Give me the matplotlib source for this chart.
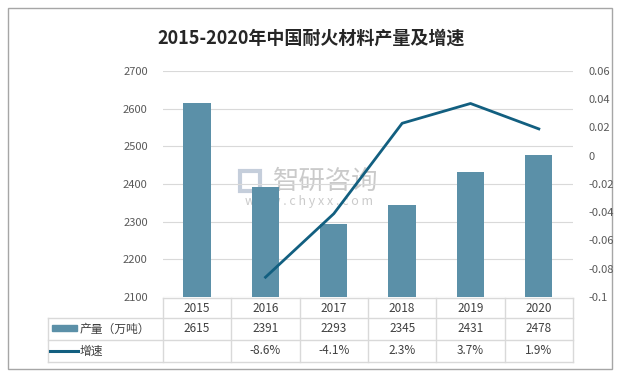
import matplotlib.pyplot as plt
import numpy as np
from matplotlib.patches import Rectangle
from matplotlib.lines import Line2D

plt.rcParams['font.family'] = ['Noto Sans CJK SC', 'DejaVu Sans']

years = ['2015', '2016', '2017', '2018', '2019', '2020']
output = [2615, 2391, 2293, 2345, 2431, 2478]
growth = [None, -0.086, -0.041, 0.023, 0.037, 0.019]
growth_labels = ['', '-8.6%', '-4.1%', '2.3%', '3.7%', '1.9%']
title = '2015-2020年中国耐火材料产量及增速'
bar_name = '产量（万吨）'
line_name = '增速'

bar_color = '#5B90A8'
line_color = '#125F80'
grid_color = '#D9D9D9'
tick_color = '#595959'
text_color = '#404040'

W, H = 618, 375
fig = plt.figure(figsize=(W / 100, H / 100), dpi=100)

# plot area in pixels
x0, x1, ytop, ybot = 163, 573, 71, 297
ax = fig.add_axes([x0 / W, (H - ybot) / H, (x1 - x0) / W, (ybot - ytop) / H])
ax.patch.set_alpha(0)
x = np.arange(len(years))
ax.bar(x, output, width=0.4, color=bar_color, zorder=2)
ax.set_xlim(-0.5, len(years) - 0.5)
ax.set_ylim(2100, 2700)
ax.set_yticks(range(2100, 2701, 100))
ax.set_xticks([])
ax.grid(axis='y', color=grid_color, lw=0.8, zorder=0)
for s in ax.spines.values():
    s.set_visible(False)
ax.tick_params(axis='y', length=0, pad=11, labelsize=8, labelcolor=tick_color)

ax2 = ax.twinx()
ax2.patch.set_alpha(0)
gx = [i for i, g in enumerate(growth) if g is not None]
gy = [g for g in growth if g is not None]
ax2.plot(gx, gy, color=line_color, lw=2, zorder=3)
ax2.set_ylim(-0.1, 0.06)
ticks = np.arange(-0.1, 0.0601, 0.02)
ax2.set_yticks(ticks)
ax2.set_yticklabels(['0' if abs(t) < 1e-9 else f'{t:g}' for t in np.round(ticks, 2)])
for s in ax2.spines.values():
    s.set_visible(False)
ax2.tick_params(axis='y', length=0, pad=11, labelsize=8, labelcolor=tick_color)

# overlay in pixel coordinates for frame, title and data table
ov = fig.add_axes([0, 0, 1, 1], zorder=-1)
ov.set_xlim(0, W)
ov.set_ylim(H, 0)
ov.axis('off')
ov.add_patch(Rectangle((7.5, 7.5), 604, 361.5, fill=False, ec='#A6A6A6', lw=1))
ov.text(W / 2 + 2, 38, title, ha='center', va='center', fontsize=13,
        fontweight='bold', color='#262626')

# watermark
ov.add_patch(Rectangle((240, 171), 20, 20, fill=False, ec='#C5CEDB', lw=3))
ov.text(326, 181, '智研咨询', ha='center', va='center', fontsize=19,
        color='#A0A0A0', alpha=0.55)
ov.text(309, 201, 'w w w . c h y x x . c o m', ha='center', va='center',
        fontsize=9, color='#A0A0A0', alpha=0.55)

# table
colw = (x1 - x0) / len(years)
rows = [298, 318, 340, 362]
tl = dict(color=grid_color, lw=1)
ov.add_line(Line2D([x0, x1], [rows[0], rows[0]], **tl))
for r in rows[1:]:
    ov.add_line(Line2D([47.5, x1], [r, r], **tl))
ov.add_line(Line2D([47.5, 47.5], [rows[1], rows[3]], **tl))
for i in range(len(years) + 1):
    xv = x0 + i * colw
    ov.add_line(Line2D([xv, xv], [rows[0], rows[3]], **tl))
for i, yr in enumerate(years):
    cx = x0 + (i + 0.5) * colw
    ov.text(cx, (rows[0] + rows[1]) / 2, yr, ha='center', va='center',
            fontsize=8.5, color=text_color)
    ov.text(cx, (rows[1] + rows[2]) / 2, str(output[i]), ha='center',
            va='center', fontsize=8.5, color=text_color)
    ov.text(cx, (rows[2] + rows[3]) / 2, growth_labels[i], ha='center',
            va='center', fontsize=8.5, color=text_color)
ov.add_patch(Rectangle((52, 325), 25, 6, color=bar_color))
ov.text(80, 329, bar_name, ha='left', va='center', fontsize=8.5, color=text_color)
ov.add_line(Line2D([50, 78], [351, 351], color=line_color, lw=2.2))
ov.text(80, 351, line_name, ha='left', va='center', fontsize=8.5, color=text_color)

fig.savefig('out.png', dpi=100)
